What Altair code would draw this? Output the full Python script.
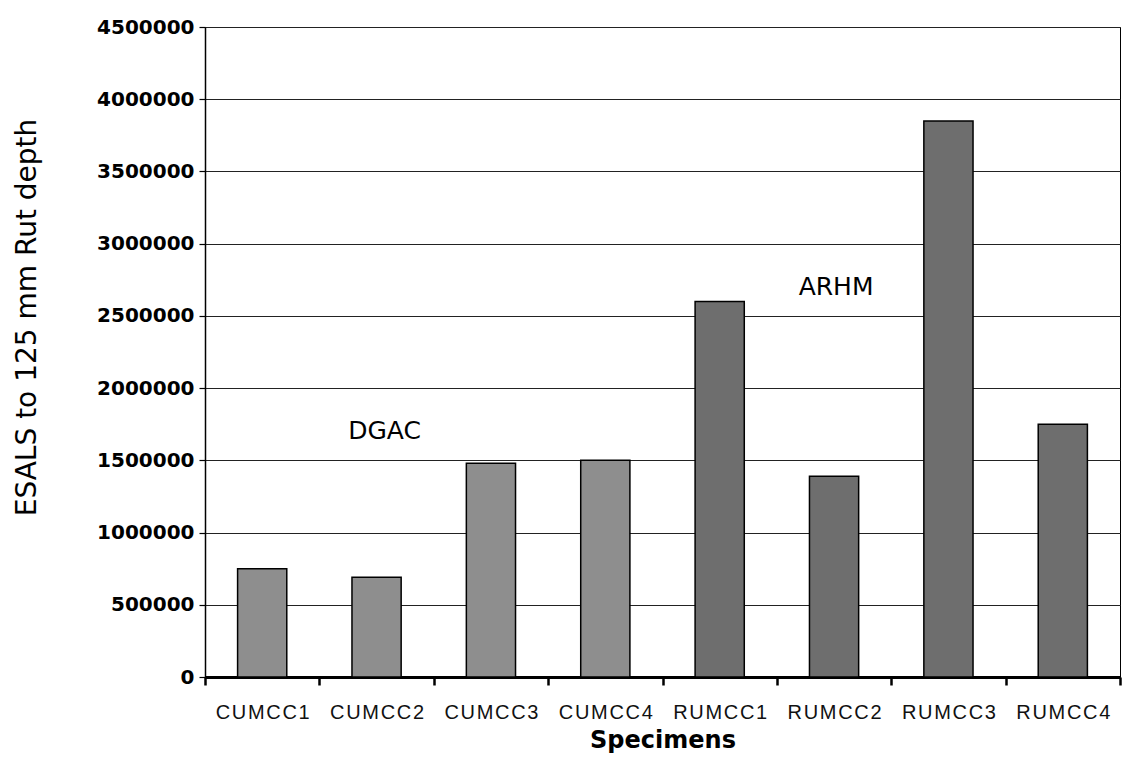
import altair as alt
import pandas as pd

# Specimens and their ESAL counts to 12.5 mm rut depth
specimens = ["CUMCC1", "CUMCC2", "CUMCC3", "CUMCC4",
             "RUMCC1", "RUMCC2", "RUMCC3", "RUMCC4"]
esals = [750000, 690000, 1480000, 1500000,
         2600000, 1390000, 3850000, 1750000]
mix = ["DGAC", "DGAC", "DGAC", "DGAC", "ARHM", "ARHM", "ARHM", "ARHM"]

# Group labels placed inside the plot
group_labels = ["DGAC", "ARHM"]
group_anchor = ["CUMCC2", "RUMCC2"]
group_level = [1700000, 2700000]
group_dx = [8, 2]

y_ticks = list(range(0, 4500001, 500000))

bars_df = pd.DataFrame({"specimen": specimens, "esals": esals, "mix": mix})

FONT = "DejaVu Sans"
LABEL_FONT = "Liberation Sans"

x_enc = alt.X(
    "specimen:N",
    sort=specimens,
    title="Specimens",
    scale=alt.Scale(paddingInner=0, paddingOuter=0),
    axis=alt.Axis(
        labelAngle=0,
        labelFont=LABEL_FONT,
        labelFontSize=20,
        labelColor="#111",
        labelPadding=17,
        labelExpr="join(split(datum.label, ''), '\u200a')",
        tickBand="extent",
        tickSize=8,
        tickWidth=2.5,
        tickColor="black",
        domainColor="black",
        domainWidth=3,
        grid=False,
        titleFont=FONT,
        titleFontSize=24,
        titleFontWeight="bold",
        titleColor="black",
        titlePadding=6,
    ),
)

y_enc = alt.Y(
    "esals:Q",
    title="ESALS to 125 mm Rut depth",
    scale=alt.Scale(domain=[0, 4500000], nice=False),
    axis=alt.Axis(
        values=y_ticks,
        format="d",
        labelFont=FONT,
        labelFontSize=20,
        labelFontWeight="bold",
        labelColor="black",
        labelPadding=5,
        tickSize=6,
        tickColor="black",
        tickWidth=1.2,
        domainColor="black",
        domainWidth=1.5,
        grid=True,
        gridColor="#222",
        gridWidth=1,
        titleFont=FONT,
        titleFontSize=28,
        titleFontWeight="normal",
        titleColor="black",
        titleX=-178,
        titleY=290,
        titleAlign="center",
        titleBaseline="middle",
    ),
)

bars = alt.Chart(bars_df).mark_bar(
    stroke="black", strokeWidth=1.5, width=alt.RelativeBandSize(0.43)
).encode(
    x=x_enc,
    y=y_enc,
    color=alt.Color(
        "mix:N",
        scale=alt.Scale(domain=["DGAC", "ARHM"], range=["#8e8e8e", "#6e6e6e"]),
        legend=None,
    ),
)

# One text layer per group label so each can carry its own pixel nudge
note_layers = []
for label, anchor, level, nudge in zip(group_labels, group_anchor, group_level, group_dx):
    df = pd.DataFrame({"label": [label], "specimen": [anchor], "esals": [level]})
    note_layers.append(
        alt.Chart(df).mark_text(
            font=FONT, fontSize=25, color="black",
            baseline="middle", align="center", dx=nudge,
        ).encode(
            x=alt.X("specimen:N", sort=specimens),
            y=alt.Y("esals:Q"),
            text="label:N",
        )
    )

chart = alt.layer(bars, *note_layers).properties(
    width=915,
    height=650,
    padding={"left": 205, "top": 27, "right": 12, "bottom": 86},
    autosize=alt.AutoSizeParams(type="none"),
    background="white",
).configure_view(
    stroke="black", strokeWidth=1
)

chart.save("out.html", embed_options={"renderer": "svg", "actions": False})
